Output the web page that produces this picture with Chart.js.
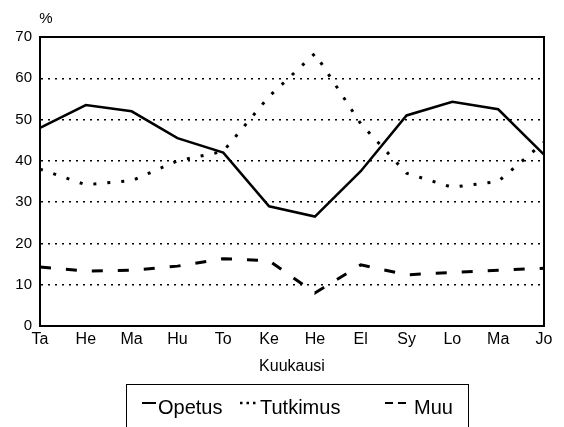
<!DOCTYPE html>
<html>
<head>
<meta charset="utf-8">
<script src="https://cdn.jsdelivr.net/npm/chart.js@4"></script>
<style>
  body { margin: 0; background: #fff; font-family: "Liberation Sans", Arial, sans-serif; }
  #wrap { position: relative; width: 564px; height: 427px; overflow: hidden; }
  #chart { position: absolute; left: 0; top: 0; }
  .legend-box { position: absolute; left: 126px; top: 384px; width: 341px; height: 60px;
    border: 1.5px solid #000; border-bottom: none; }
  .lg { position: absolute; font-size: 20px; color: #000; line-height: 20px; top: 397px; }
  .lg svg { position: absolute; }
</style>
</head>
<body>
<div id="wrap">
  <canvas id="chart" width="564" height="427"></canvas>
  <div class="legend-box"></div>
  <svg class="lg" style="left:142px;top:400px" width="14" height="6"><line x1="0" y1="3" x2="14" y2="3" stroke="#000" stroke-width="2"/></svg>
  <span class="lg" style="left:158px">Opetus</span>
  <svg class="lg" style="left:240px;top:400px" width="16" height="6"><line x1="0" y1="3" x2="16" y2="3" stroke="#000" stroke-width="2.5" stroke-dasharray="2.5,4"/></svg>
  <span class="lg" style="left:260px">Tutkimus</span>
  <svg class="lg" style="left:385px;top:400px" width="22" height="6"><line x1="0" y1="3" x2="22" y2="3" stroke="#000" stroke-width="2" stroke-dasharray="8,5"/></svg>
  <span class="lg" style="left:414px">Muu</span>
</div>

<script>
  const months = ['Ta', 'He', 'Ma', 'Hu', 'To', 'Ke', 'He', 'El', 'Sy', 'Lo', 'Ma', 'Jo'];
  const opetus = [48, 53.5, 52, 45.5, 42, 29, 26.5, 37.5, 51, 54.3, 52.5, 41.5];
  const tutkimus = [38, 34.2, 35.2, 40, 42.3, 55.6, 66, 49, 37, 33.6, 35, 44.5];
  const muu = [14.3, 13.3, 13.5, 14.5, 16.3, 15.8, 8, 14.8, 12.4, 13, 13.5, 14];
  const yTicks = [0, 10, 20, 30, 40, 50, 60, 70];

  const FONT = '"Liberation Sans", Arial, sans-serif';

  // top and right edge of the plot frame, plus the "%" unit label
  const framePlugin = {
    id: 'frame',
    afterDraw(chart) {
      const { ctx, chartArea: a } = chart;
      ctx.save();
      ctx.strokeStyle = '#000';
      ctx.lineWidth = 2;
      ctx.beginPath();
      ctx.moveTo(a.left, a.top);
      ctx.lineTo(a.right, a.top);
      ctx.lineTo(a.right, a.bottom);
      ctx.stroke();
      ctx.fillStyle = '#000';
      ctx.font = '15px ' + FONT;
      ctx.textAlign = 'center';
      ctx.textBaseline = 'middle';
      ctx.fillText('%', 46, 19);
      ctx.restore();
    }
  };

  new Chart(document.getElementById('chart'), {
    type: 'line',
    data: {
      labels: months,
      datasets: [
        { label: 'Opetus', data: opetus, borderColor: '#000', borderWidth: 2.5 },
        { label: 'Tutkimus', data: tutkimus, borderColor: '#000', borderWidth: 3, borderDash: [3, 11] },
        { label: 'Muu', data: muu, borderColor: '#000', borderWidth: 3, borderDash: [11, 15] }
      ]
    },
    options: {
      responsive: false,
      animation: false,
      layout: { padding: { top: 37, right: 20, bottom: 51, left: 0 } },
      elements: { point: { radius: 0 }, line: { tension: 0, fill: false } },
      plugins: { legend: { display: false }, tooltip: { enabled: false } },
      scales: {
        x: {
          offset: false,
          grid: { display: false, drawTicks: false },
          border: { display: true, color: '#000', width: 2 },
          ticks: { color: '#000', font: { family: FONT, size: 16 }, padding: 4, maxRotation: 0, autoSkip: false },
          title: { display: true, text: 'Kuukausi', color: '#000', font: { family: FONT, size: 16 }, padding: { top: 0, bottom: 0 } },
          afterFit(scale) { scale.height = 50; }
        },
        y: {
          min: 0,
          max: 70,
          afterBuildTicks(scale) { scale.ticks = yTicks.map(v => ({ value: v })); },
          grid: {
            drawTicks: false,
            lineWidth: 1.5,
            color: c => (c.tick && (c.tick.value === 0 || c.tick.value === 70)) ? 'rgba(0,0,0,0)' : '#000'
          },
          border: { display: true, color: '#000', width: 2, dash: [2, 5] },
          ticks: { color: '#000', font: { family: FONT, size: 15 }, padding: 8 },
          afterFit(scale) { scale.width = 40; }
        }
      }
    },
    plugins: [framePlugin]
  });
</script>
</body>
</html>
